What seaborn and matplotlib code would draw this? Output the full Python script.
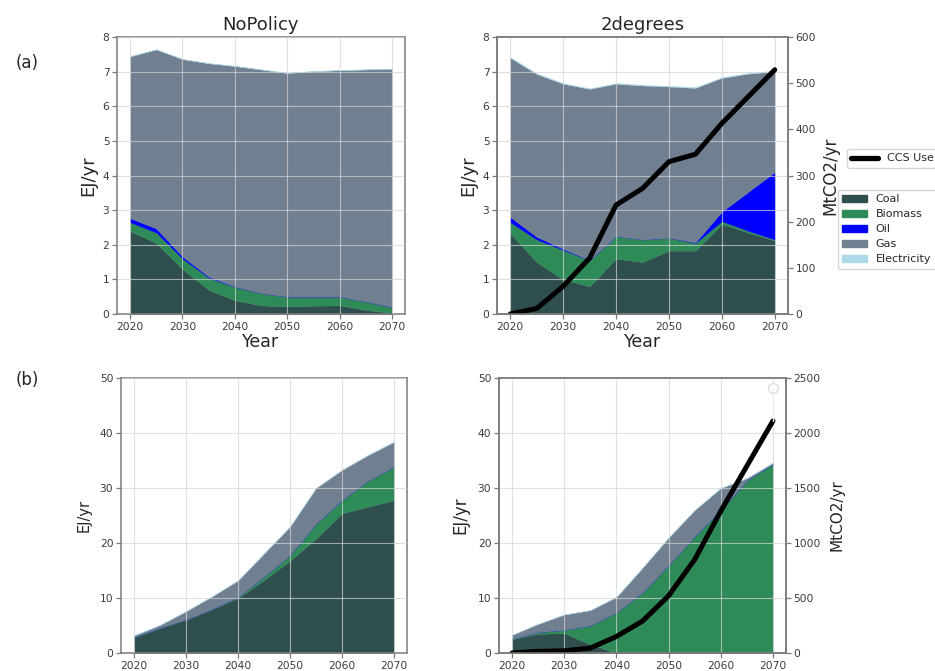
import matplotlib
matplotlib.use("Agg")
import matplotlib.pyplot as plt
import seaborn as sns
from matplotlib.patches import Patch
from matplotlib.lines import Line2D

# ---- data -------------------------------------------------------------
years = [2020, 2025, 2030, 2035, 2040, 2045, 2050, 2055, 2060, 2065, 2070]
fuels = ["Coal", "Biomass", "Oil", "Gas", "Electricity"]
fuel_colors = ["#2f4f4f", "#2e8b57", "#0000ff", "#708090", "#add8e6"]

# (a) NoPolicy, EJ/yr
a_np_coal = [2.40, 2.05, 1.30, 0.70, 0.40, 0.25, 0.22, 0.24, 0.25, 0.12, 0.03]
a_np_biomass = [0.25, 0.30, 0.30, 0.35, 0.38, 0.35, 0.28, 0.26, 0.25, 0.24, 0.17]
a_np_oil = [0.12, 0.12, 0.06, 0.03, 0.01, 0.0, 0.0, 0.0, 0.0, 0.0, 0.0]
a_np_gas = [4.67, 5.17, 5.70, 6.16, 6.37, 6.46, 6.46, 6.51, 6.54, 6.70, 6.88]
a_np_elec = [0.01] * 11

# (a) 2degrees, EJ/yr
a_2d_coal = [2.33, 1.50, 1.00, 0.80, 1.60, 1.50, 1.83, 1.83, 2.60, 2.35, 2.12]
a_2d_biomass = [0.32, 0.65, 0.85, 0.75, 0.65, 0.65, 0.37, 0.22, 0.08, 0.05, 0.03]
a_2d_oil = [0.15, 0.08, 0.03, 0.01, 0.0, 0.0, 0.0, 0.02, 0.28, 1.13, 1.95]
a_2d_gas = [4.60, 4.70, 4.77, 4.94, 4.40, 4.45, 4.37, 4.46, 3.86, 3.41, 2.91]
a_2d_elec = [0.02] * 11
a_2d_ccs = [0, 12, 60, 121, 236, 272, 330, 346, 413, 471, 529]  # MtCO2/yr

# (b) NoPolicy, EJ/yr
b_np_coal = [2.8, 4.5, 6.0, 7.9, 10.0, 13.3, 16.8, 20.8, 25.4, 26.6, 27.8]
b_np_biomass = [0.1, 0.1, 0.1, 0.1, 0.2, 0.6, 1.0, 2.7, 2.4, 4.7, 6.1]
b_np_oil = [0.0] * 11
b_np_gas = [0.29, 0.49, 1.49, 2.29, 2.99, 4.19, 5.19, 6.49, 5.49, 4.69, 4.49]
b_np_elec = [0.01] * 11

# (b) 2degrees, EJ/yr
b_2d_coal = [2.5, 3.5, 3.6, 1.6, 0.0, 0.0, 0.0, 0.0, 0.0, 0.0, 0.0]
b_2d_biomass = [0.1, 0.3, 0.6, 3.4, 7.4, 11.0, 16.0, 21.2, 26.0, 31.4, 34.4]
b_2d_oil = [0.0] * 11
b_2d_gas = [0.69, 1.49, 2.79, 2.79, 2.79, 4.49, 4.99, 4.79, 3.99, 0.39, 0.19]
b_2d_elec = [0.01] * 11
b_2d_ccs = [0, 15, 20, 45, 150, 290, 520, 850, 1290, 1700, 2110]  # MtCO2/yr
b_2d_ccs_upper = [2410]  # single open marker at 2070

# ---- style ------------------------------------------------------------
sns.set_style("ticks")
plt.rcParams["font.family"] = ["DejaVu Sans"]
SPINE = "#7a7a7a"
TICKTXT = "#3a3a3a"

fig = plt.figure(figsize=(9.35, 6.71), dpi=100)
W, H = 935.0, 671.0


def axes_px(x0, y0, x1, y1):
    return fig.add_axes([x0 / W, 1 - y1 / H, (x1 - x0) / W, (y1 - y0) / H])


def style_axis(ax):
    for s in ax.spines.values():
        s.set_color(SPINE)
        s.set_linewidth(1.1)
    ax.tick_params(axis="both", direction="out", length=3.5, width=0.9,
                   color=SPINE, labelcolor=TICKTXT, labelsize=7.7, pad=2)


def draw_stack(ax, layers, ymax, ystep):
    ax.stackplot(years, *layers, colors=fuel_colors, labels=fuels,
                 linewidth=0.25, edgecolor="face")
    ax.set_xlim(2017.5, 2072.5)
    ax.set_ylim(0, ymax)
    ax.set_xticks(range(2020, 2071, 10))
    ax.set_yticks(range(0, ymax + 1, ystep))
    ax.grid(True, color="#d4d4d4", alpha=0.7, linewidth=0.8)
    ax.set_axisbelow(False)
    style_axis(ax)


def draw_ccs(ax, values, ymax, ystep):
    ax2 = ax.twinx()
    sns.lineplot(x=years, y=values, ax=ax2, color="black", linewidth=3.6,
                 legend=False)
    ax2.set_ylim(0, ymax)
    ax2.set_yticks(range(0, ymax + 1, ystep))
    ax2.grid(False)
    style_axis(ax2)
    return ax2


# (a) row
ax_a1 = axes_px(117, 37, 405, 314)
draw_stack(ax_a1, [a_np_coal, a_np_biomass, a_np_oil, a_np_gas, a_np_elec], 8, 1)
ax_a1.set_title("NoPolicy", fontsize=13, pad=5)
ax_a1.set_ylabel("EJ/yr", fontsize=13, labelpad=4)
ax_a1.set_xlabel("Year", fontsize=12.5, labelpad=1)

ax_a2 = axes_px(497, 37, 788, 314)
draw_stack(ax_a2, [a_2d_coal, a_2d_biomass, a_2d_oil, a_2d_gas, a_2d_elec], 8, 1)
ax_a2.set_title("2degrees", fontsize=13, pad=5)
ax_a2.set_ylabel("EJ/yr", fontsize=13, labelpad=4)
ax_a2.set_xlabel("Year", fontsize=12.5, labelpad=1)
tw_a2 = draw_ccs(ax_a2, a_2d_ccs, 600, 100)
tw_a2.set_ylabel("MtCO2/yr", fontsize=12, labelpad=4)

# (b) row
ax_b1 = axes_px(121, 378, 407, 653)
draw_stack(ax_b1, [b_np_coal, b_np_biomass, b_np_oil, b_np_gas, b_np_elec], 50, 10)
ax_b1.set_ylabel("EJ/yr", fontsize=10.5, labelpad=6)

ax_b2 = axes_px(499, 378, 786, 653)
draw_stack(ax_b2, [b_2d_coal, b_2d_biomass, b_2d_oil, b_2d_gas, b_2d_elec], 50, 10)
ax_b2.set_ylabel("EJ/yr", fontsize=12, labelpad=6)
tw_b2 = draw_ccs(ax_b2, b_2d_ccs, 2500, 500)
tw_b2.set_ylabel("MtCO2/yr", fontsize=11, labelpad=6)
tw_b2.plot([years[-1]], b_2d_ccs_upper, marker="o", markersize=7,
           markerfacecolor="white", markeredgecolor="#e0e0e0",
           markeredgewidth=1.2, linestyle="none", clip_on=False)
tw_b2.plot([years[-1], years[-1]], [b_2d_ccs[-1], b_2d_ccs_upper[0]],
           color="#eeeeee", linewidth=1.0)

# panel tags
fig.text(27 / W, 1 - 63 / H, "(a)", fontsize=12, ha="center", va="center")
fig.text(27 / W, 1 - 380 / H, "(b)", fontsize=12, ha="center", va="center")

# legends
fig.legend(handles=[Line2D([0], [0], color="black", linewidth=3.8)],
           labels=["CCS Use"], loc="upper left",
           bbox_to_anchor=(847 / W, 1 - 149 / H), fontsize=8,
           handlelength=2.4, borderaxespad=0, frameon=True)
fig.legend(handles=[Patch(facecolor=c, edgecolor=c) for c in fuel_colors],
           labels=fuels, loc="upper left",
           bbox_to_anchor=(838 / W, 1 - 190 / H), fontsize=8,
           handlelength=2.2, borderaxespad=0, frameon=True,
           labelspacing=0.45)

fig.savefig("out.png", dpi=100)
